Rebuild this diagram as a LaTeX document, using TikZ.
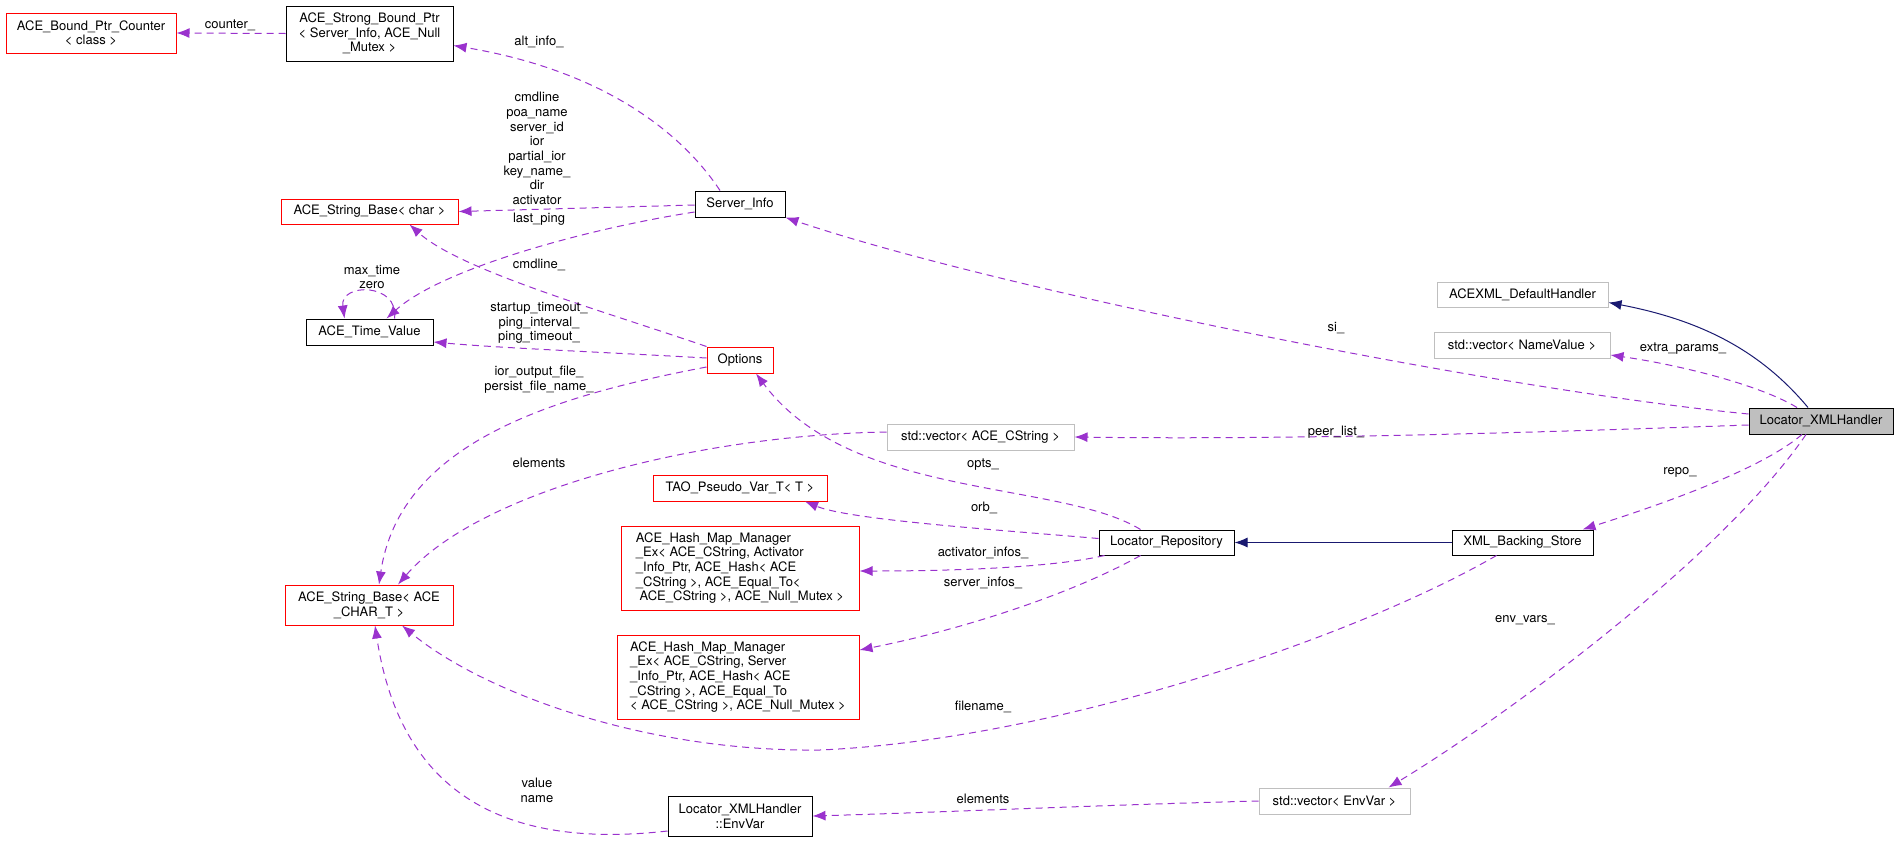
\documentclass[tikz,border=0pt]{standalone}
\usepackage{fontspec}
\setmainfont{TeX Gyre Heros}
\usetikzlibrary{arrows.meta}

\definecolor{memberclr}{HTML}{9A32CD}
\definecolor{inhclr}{HTML}{191970}
\definecolor{boxgray}{HTML}{BFBFBF}

\begin{document}
\begin{tikzpicture}[
  x=1pt, y=-1pt,
  font=\fontsize{13}{14.7}\selectfont,
  box/.style={draw=#1, line width=1pt, inner sep=0pt, align=center},
  member/.style={draw=memberclr, line width=1pt, dash pattern=on 7pt off 5pt, -{Latex[length=13pt,width=10pt]}},
  inherit/.style={draw=inhclr, line width=1pt, -{Latex[length=13pt,width=10pt]}},
  lbl/.style={align=center, inner sep=0pt}
]
\useasboundingbox (0,0) rectangle (1899,841);

% classes
\node[box=red, minimum width=170pt, minimum height=40pt] (cnt) at (91,33) {ACE\_Bound\_Ptr\_Counter\\< class >};
\node[box=black, minimum width=167pt, minimum height=55pt] (sbp) at (369.5,33.5) {ACE\_Strong\_Bound\_Ptr\\< Server\_Info, ACE\_Null\\\_Mutex >};
\node[box=red, minimum width=177pt, minimum height=25pt] (sbchar) at (369.5,211.5) {ACE\_String\_Base< char >};
\node[box=black, minimum width=90pt, minimum height=26pt] (srvinfo) at (740,204) {Server\_Info};
\node[box=black, minimum width=127pt, minimum height=26pt] (tval) at (369.5,332) {ACE\_Time\_Value};
\node[box=red, minimum width=66pt, minimum height=26pt] (opts) at (740,360) {Options};
\node[box=boxgray, minimum width=171pt, minimum height=25pt] (dflt) at (1522.5,294.5) {ACEXML\_DefaultHandler};
\node[box=boxgray, minimum width=176pt, minimum height=26pt] (vnv) at (1522,345) {std::vector< NameValue >};
\node[box=black, fill=boxgray, minimum width=144pt, minimum height=26pt] (xmlh) at (1821,421) {Locator\_XMLHandler};
\node[box=boxgray, minimum width=187pt, minimum height=26pt] (vcs) at (980.5,437) {std::vector< ACE\_CString >};
\node[box=red, minimum width=174pt, minimum height=26pt] (tao) at (740,488) {TAO\_Pseudo\_Var\_T< T >};
\node[box=red, minimum width=238pt, minimum height=84pt, align=left] (hmact) at (740,568) {ACE\_Hash\_Map\_Manager\\\_Ex< ACE\_CString, Activator\\\_Info\_Ptr, ACE\_Hash< ACE\\\_CString >, ACE\_Equal\_To<\\\ ACE\_CString >, ACE\_Null\_Mutex >};
\node[box=black, minimum width=135pt, minimum height=25pt] (lrep) at (1166.5,542.5) {Locator\_Repository};
\node[box=black, minimum width=141pt, minimum height=25pt] (xbs) at (1522.5,542.5) {XML\_Backing\_Store};
\node[box=red, minimum width=168pt, minimum height=40pt] (sbact) at (369,605) {ACE\_String\_Base< ACE\\\_CHAR\_T >};
\node[box=red, minimum width=242pt, minimum height=84pt, align=left] (hmsrv) at (738,677) {ACE\_Hash\_Map\_Manager\\\_Ex< ACE\_CString, Server\\\_Info\_Ptr, ACE\_Hash< ACE\\\_CString >, ACE\_Equal\_To\\< ACE\_CString >, ACE\_Null\_Mutex >};
\node[box=black, minimum width=144pt, minimum height=40pt] (envvar) at (740,816) {Locator\_XMLHandler\\::EnvVar};
\node[box=boxgray, minimum width=151pt, minimum height=26pt] (venv) at (1334.5,801) {std::vector< EnvVar >};

% inheritance
\draw[inherit] ([xshift=-13pt]xmlh.north) .. controls (1760,350) and (1700,320) .. ([yshift=-8pt]dflt.east);
\draw[inherit] (xbs.west) -- (lrep.east);

% members
\draw[member] (sbp.west) -- (cnt.east) node[lbl] at (230,25) {counter\_};
\draw[member] ([xshift=-20pt]srvinfo.north) .. controls (680,130) and (600,70) .. ([yshift=-12pt]sbp.east) node[lbl] at (539,42) {alt\_info\_};
\draw[member] ([yshift=-1pt]srvinfo.west) -- (sbchar.east) node[lbl] at (537,148.5) {cmdline\\poa\_name\\server\_id\\ior\\partial\_ior\\key\_name\_\\dir\\activator};
\draw[member] ([yshift=-8pt]srvinfo.west) .. controls (580,230) and (440,270) .. ([xshift=17pt]tval.north) node[lbl] at (539,219) {last\_ping};
\draw[member] ([xshift=25pt]tval.north) .. controls +(5,-36) and +(-5,-36) .. ([xshift=-25pt]tval.north) node[lbl] at (372,277) {max\_time\\zero};
\draw[member] (opts.north west) .. controls (600,310) and (460,270) .. ([xshift=40pt]sbchar.south) node[lbl] at (539,265) {cmdline\_};
\draw[member] ([yshift=2pt]opts.west) .. controls (600,352) and (500,348) .. ([yshift=-10pt]tval.east) node[lbl] at (539,323) {startup\_timeout\_\\ping\_interval\_\\ping\_timeout\_};
\draw[member] ([yshift=-7pt]opts.west) .. controls (560,395) and (400,440) .. ([xshift=10pt]sbact.north) node[lbl] at (539,379.5) {ior\_output\_file\_\\persist\_file\_name\_};
\draw[member] ([yshift=5pt]vcs.west) .. controls (700,435) and (480,490) .. ([xshift=29pt]sbact.north) node[lbl] at (539,463) {elements};
\draw[member] ([xshift=-26pt]lrep.north) .. controls (1060,480) and (850,500) .. ([xshift=16pt]opts.south) node[lbl] at (983,465) {opts\_};
\draw[member] ([yshift=4pt]lrep.west) .. controls (1000,530) and (850,520) .. ([xshift=65pt]tao.south) node[lbl] at (984,508) {orb\_};
\draw[member] ([xshift=6pt]lrep.south west) .. controls (1050,568) and (950,571) .. ([yshift=-3pt]hmact.east) node[lbl] at (983,553) {activator\_infos\_};
\draw[member] ([xshift=-26pt]lrep.south) .. controls (1070,595) and (960,630) .. ([yshift=27pt]hmsrv.east) node[lbl] at (983,583) {server\_infos\_};
\draw[member] ([xshift=-26pt]xbs.south) .. controls (1350,640) and (1050,740) .. (820,750) .. controls (640,752) and (480,690) .. ([xshift=33pt]sbact.south) node[lbl] at (983,707) {filename\_};
\draw[member] ([yshift=-15pt]envvar.west) .. controls (500,850) and (400,790) .. ([xshift=6pt]sbact.south) node[lbl] at (537,790) {value\\name};
\draw[member] (venv.west) .. controls (1100,805) and (950,812) .. (envvar.east) node[lbl] at (983,799) {elements};
\draw[member] ([yshift=7pt]xmlh.west) .. controls (1500,390) and (1000,290) .. (srvinfo.south east) node[lbl] at (1336,328) {si\_};
\draw[member] ([xshift=-24pt]xmlh.north) .. controls (1760,385) and (1680,365) .. ([yshift=-10pt]vnv.east) node[lbl] at (1683,349) {extra\_params\_};
\draw[member] ([yshift=-4pt]xmlh.west) .. controls (1550,432) and (1300,440) .. (vcs.east) node[lbl] at (1336,432) {peer\_list\_};
\draw[member] ([xshift=-19pt]xmlh.south) .. controls (1760,470) and (1660,505) .. ([xshift=60pt]xbs.north) node[lbl] at (1680,472) {repo\_};
\draw[member] ([xshift=-15pt]xmlh.south) .. controls (1720,560) and (1500,720) .. ([xshift=54pt]venv.north) node[lbl] at (1525,620) {env\_vars\_};

\end{tikzpicture}
\end{document}
